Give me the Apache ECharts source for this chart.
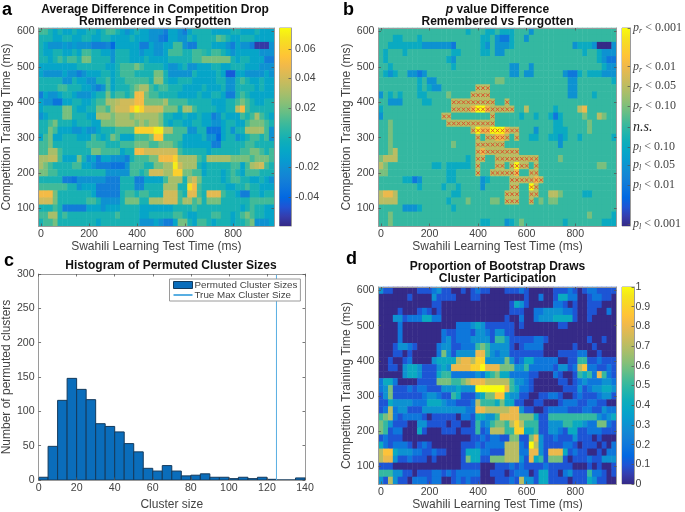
<!DOCTYPE html>
<html>
<head>
<meta charset="utf-8">
<style>html,body{margin:0;padding:0;background:#fff}#c{width:685px;height:512px;filter:blur(0.45px)}</style>
<script src="https://cdn.jsdelivr.net/npm/echarts@6/dist/echarts.min.js"></script>
</head>
<body>
<div id="c"></div>
<script>
const testTimes = [0,20,40,60,80,100,120,140,160,180,200,220,240,260,280,300,320,340,360,380,400,420,440,460,480,500,520,540,560,580,600,620,640,660,680,700,720,740,760,780,800,820,840,860,880,900,920,940,960];
const trainTimes = [60,80,100,120,140,160,180,200,220,240,260,280,300,320,340,360,380,400,420,440,460,480,500,520,540,560,580,600];

// Panel a: difference x 100, rows from 600 ms down to 60 ms
const diffRows = [
[1,1,0,-1,0,-1,-1,0,-1,-1, 0,0,-1,0,1,1,0,-1,-2,-1, 0,-1,-1,-2,-2,-2,-3,-1,-1,-2, -3,-1,0,0,0,0,-1,-1,-1,-1, 0,0,-1,-1,-1,0,-1,-1,-1],
[0,0,0,-1,-1,0,0,-1,-1,0, 0,-1,-1,0,0,-1,-1,-1,-1,0, -1,-1,-1,-2,-2,-3,-3.5,-1,-1,-2, -2,0,-1,0,0,0,0,1.5,1,0, -1,-1,0,0,0,-1,-1,-1,-1],
[0,-1,-2,-2,-2,-1.5,-2,-1.5,-2,-2, -2,-3,-3,-3,-2.5,-4,-1,-1,-1,-1, -1,-3,-3,-1,-2,-2,-1,-1,1,1, -2,-3,-3,0,0,0,-1,-1,-1,-2, -3,-1,-2,-2,-3,-5.5,-5.5,-5.5,-2],
[0,-1,-1,0,0,-1,-1,0,-1,1, 1,0,0,-1,-1,-2,0,0,0,-1, -1,-2,-1,-1,-2,-2,-1,1,1,1, 0,0,1,1,0.5,0,1,1,0,-1, -2,-1,-1,-1,-1,-1,-2,-2,-2],
[0,0,-1,0,1,0,1,1,0,2, 2,0,0,0,0,-2,0,0,0,-1, -1,-1,0,-1,-1,-1,-1,0,0,0, 0,0,1,1,2,2,2,2,2,2, 0,-1,0,0,-1,-1,-1,-3,-3],
[-1,-1,-1,-1,-1,-1,-1,-1,0,0, 0,0,0,0,-1,-1,0,1,1,1, 2,1,0,0,0,0,-1,-2,-2,-1, 0,-2,-2,-1,-1,-1,0,0,-1,-1, 0,0,0,-1,-1,-1,-2,-2,-2],
[-1,-2,-2,-2,-2,-1,-2,-2,-3,-2, -1,-1,-1,0,0,-1,0,1,1,1, 0,0,0,0,2,2,0,-2,-2,-2, -2,-2,0,-1,-1,-1,-1,0,-1,-4.5, -4.5,-1,-1,-2,-2,-2,-2,-1,-2],
[0,0,0,0,0,-2,-2,0,-1,-1, -2,-2,0,0,1,-1,0,0,1,1, 1,1,1,0,2.5,2.5,0,-1,-1,0, 0,0,-1,-1,-1,-1,-1,0,0,-2, -2,0,1,0,-1,-1,0,-1,-1],
[0,0,0,0,1,1,0,0,0,-1, -1,-2,-3,-2,1,-1,0,0,0,1, 2,3,3,1,0,1,1,0,0,0, -1,-1,-1,-1,0,-1,-1,-1,0,-2, -2,0,0,0,0,-1,0,-1,-1],
[-3,-1,-2,-2,-1,0,0,-1,-2,-2, -2,-1,0,0,2,0,1,1,0,1, 5,5,2,1,1,0,0,0,0,-1, -1,-1,-1,0,-1,-1,0,0,-1,-3, -3,0,1,0,-1,-1,-1,-1,-1],
[-1,-2,-2,-3.5,-3.5,-1,-1,0,0,-1, -1,0,1,1,3,3,3.5,4,4,4, 5,5,2,2,2,2,3,1,1,1, 1,0,0,0,0,0,-1,-1,-1,0, 0,1,2,1,0,-1,-1,0,0],
[-1,0,0,0,0,2,2,0,-1,-1, 0,0,2,2,1,3,4,4,4,5.5, 7,6,4,4,4,4,2,2,2,0, 3,3,1,0,0,0,0,-1,-1,0, 0,3.5,5,1,0,0,0,0,0],
[-2,-1,0,0,0,2,2,0,0,0, -1,-1,3,3,3,2,3,3,3,2, 3,3,3,3,3,2,0,0,-1,-1, 0,-1,-1,0,-1,-1,-3,-2,0,-1, -1,-1,1,0,1,3,1,0,-1],
[0,0,1,2,0,0,0,-1,0,0, 0,-1,-1,2,2,2,3,3,3,3, 2,3,2,3,3,2,0,-1,0,0, -1,-1,0,0,-1,-1,-2,-2,-1,0, 0,-1,-1,1,2,2,2,1,0],
[0,0,2,1,-1,-1,-1,-2,-2,-1, -2,-2,-1,0,0,0,1,1,1,1, 6,6,6,6,7,7,3,3,1,1, 1,-2,-2,0,0,-3.5,-3.5,-3.5,-1,0, -2,0,0,3,3,3,3,1,-2],
[-1,1,2,-1,-1,0,0,0,-1,-1, -1,1,0,-1,0,2,1,-1,-1,-1, 1,1,1,2,5.5,5.5,1,1,1,1, -1,-1,-1,-1,0,-2,-2,-4,-1,0, 0,-2,-1,0,1,1,0,1,-2],
[1,1,2,0,0,0,0,0,0,0, 1,1,1,1,0,0,0,1,1,1, 2,2,2,1,1,2,2,2,1,0, -1,-1,-1,-1,-1,-1,-3,-3,0,0, 0,0,0,1,1,0,0,0,0],
[1,1,3,3,1,0,0,0,0,0, 0,2,2,1,1,1,1,-1,0,0, 5,5,4,4,4,4,4,4,4,1, 0,0,0,0,0,-1,0,0,0,0, 0,0,1,1,2,2,1,0,1],
[3,3,3.5,3.5,1,-1,-1,-1,2,0, -2,-1,-3,-1,-1,-2,-2,-2,-3,0, 1,1,1,2,2,5,5,5,6,3, 3,3,3,1,0,3,3,3,3,3, 2,2,2,2,1,2,2,2,1],
[3,2,1,0,0,0,0,1,1,-1, -1,-2,-3,-3,-3,-3.5,-3.5,-3.5,-2,1, 1,1,0,0,2,2,3,3,7,4, 3,3,3,0,-1,0,0,0,0,0, 1,1,-1,1,3,3.5,4,1,0],
[2,2,1,1,0,0,0,0,0,0, 0,0,0,0,-2,-2,-2,-2,-2,1, 1,0,1,4,4,4,3,3,6,6, 2,2,1,1,-1,0,0,0,-1,0, 1,0,-1,1,1,1,0,0,0],
[0,0,0,0,0,-3,-3,-3.5,-2,-2, -2,-2,-2,-2,-3,-3,-3,0,0,0, -3,-3,-1,-1,-1,-1,1,3,3,3, 0,3,4,2,0,0,0,0,-1,0, 1,1,0,0,-1,-1,0,-1,-2],
[1,1,1,1,1,1,0,0,-2,-1, -1,-1,-3,-3,-3,-3,-3,0,0,0, -2.5,-2.5,0,0,0,0,3,3,3,0, 0,6.5,5,1,0,0,0,0,0,-1, -1,0,0,1,0,0,-1,-1,-1],
[5,5,5,2,0,0,0,0,0,0, 0,-1,-3,-3,-3,-3,-3,0,1,1, 0,1,1,0,0,0,4,4,4,1, 0,4.5,4.5,1,0,4.5,4.5,4.5,1,0, 0,-1,-3,-3,0,0,-1,0,0],
[4,4,4,2,0,0,0,0,0,0, 1,1,0,-2,-2,-2,-2,0,2,2, 2,0,0,3,3,3,4,4,4,1, 3,3,1,2,0,2,2,2,0,0, 0,0,0,0,1,1,1,1,1],
[0,0,0,1,0,-3,-3,-3,-3,-3, -1,-1,-1,-2,-1,-1,-1,0,0,0, 0,-1,-1,-1,-1,-1,-1,-1,0,0, 0,0,1,0,0,0,0,0,0,0, 0,0,-1,0,1,0,0,-1,-1],
[1,1,3,3,0,1,0,0,0,0, 0,0,0,0,0,0,1,0,0,0, 0,-1,-1,0,0,0,0,0,1,1, 0,-1,-1,0,0,0,1,1,0,0, -1,0,1,2,1,0,0,-1,-1],
[0,1,1,2,0,0,0,0,0,0, 0,0,-1,0,0,0,0,0,0,0, 0,-2,-2,-2,-1,-2,-3,-3,-1,2, 2,0,-1,1,1,0,-1,0,0,0, -1,0,0,1,2,-2,-2,-2,-1]
];

// Panel b: signed significance level x 5, rows from 600 ms down to 60 ms
const pRows = [
[0,0,0,0,0,0,0,0,0,0, 0,0,0,0,0,0,0,0,-1,0, 0,0,-1,-1,0,-1,-1,-1,0,0, 0,-2,0,0,0,0,0,0,0,0, 0,0,0,0,0,0,0,0,0],
[0,0,0,-1,-1,0,0,0,-1,0, 0,0,0,0,0,0,0,0,0,0, 0,-1,-1,0,-2,-3,-3,-1,0,0, -2,0,0,0,0,0,0,0,0,0, 0,0,0,0,0,0,0,0,0],
[0,0,-1,-1,-1,-1,-1,-1,-1,-2, -2,-2,-2,-2,-2,-3,0,0,0,0, 0,-1,-2,0,-2,-2,-2,-1,0,0, 0,0,0,0,0,0,0,0,0,0, -2,-1,-1,-1,-2,-5,-5,-5,-2],
[0,-1,0,0,0,-1,0,0,0,0, 0,0,0,0,0,-1,-1,0,0,0, 0,-1,-1,0,-2,-2,0,0,0,0, 0,0,0,0,0,0,0,0,0,0, 0,0,-1,0,0,-1,-2,-2,-2],
[0,-1,0,0,0,0,0,0,0,0, 0,0,0,0,-1,-2,0,0,0,0, 0,0,0,0,0,0,0,0,0,0, 0,0,0,0,0,0,0,0,0,0, 0,0,0,0,0,-1,-2,-3,-3],
[0,0,-1,0,0,0,0,0,0,0, 0,0,0,0,0,-1,0,0,0,0, 0,0,0,0,0,0,0,-2,-2,0, 0,-2,0,0,0,0,0,0,0,0, 0,0,0,0,0,0,-1,-2,-2],
[0,-1,-2,-1,0,0,-2,-2,-3,-2, 0,0,0,0,0,0,0,0,0,0, 0,0,0,0,0,0,0,-2,-2,0, -2,-2,0,0,0,0,0,0,-2,-3, -3,-1,0,-1,-1,-1,-2,-2,-2],
[0,0,0,0,0,0,0,0,-1,0, -2,-2,0,0,0,0,0,0,0,0, 0,0,0,0,1,1,0,0,0,0, 0,0,0,0,0,0,0,0,0,-2, -2,0,0,0,0,0,0,0,-1],
[0,0,0,0,0,0,0,0,-1,0, -1,-2,-2,0,0,0,0,0,0,0, 2,2,2,0,0,0,0,0,0,0, 0,0,0,0,0,0,0,0,0,-2, -2,0,0,0,0,0,0,0,0],
[-2,0,-1,0,-1,0,0,0,-1,-1, 0,0,0,0,1,0,0,0,0,2, 2,2,2,0,0,0,0,0,0,0, 0,0,0,0,0,0,0,0,0,-2, -2,0,0,0,-1,0,0,0,0],
[0,0,-2,-2,-2,0,0,0,0,-1, -1,0,0,0,0,2,2,2,2,2, 2,2,2,2,0,0,2,0,0,0, 0,0,0,0,0,0,0,0,0,0, 0,0,0,0,0,0,0,0,0],
[-1,0,0,0,0,0,0,0,0,0, 0,0,0,0,0,2,2,2,2,3, 5,5,3,2,2,2,2,2,0,0, 2,0,0,0,0,0,-1,0,0,0, 0,2,3,0,0,0,0,0,0],
[-2,0,0,0,0,0,0,0,0,0, 0,0,0,2,2,0,0,0,0,0, 0,0,0,2,0,0,0,0,0,-1, 0,0,-1,0,0,-1,-3,-1,0,0, 0,0,1,0,0,2,1,0,0],
[0,0,1,0,0,0,0,0,0,0, 0,0,0,0,2,2,2,2,2,2, 2,2,2,2,0,0,0,0,0,0, 0,0,0,0,0,0,-1,-1,0,0, 0,0,0,1,0,0,0,0,0],
[0,0,1,0,0,0,0,0,0,0, 0,0,0,0,0,0,0,0,0,2, 5,3,3,5,5,5,3,2,2,0, 0,0,-2,0,0,0,-1,-1,-1,0, 0,0,0,1,0,0,0,0,0],
[0,0,1,0,0,0,0,0,0,0, 0,0,0,0,0,0,0,0,0,0, 2,0,2,2,3,3,2,0,2,0, 0,-1,-1,0,0,-1,-1,-2,-1,0, 0,-1,0,0,0,0,0,0,-1],
[0,0,1,0,0,0,0,0,0,0, 0,0,0,0,0,1,0,0,0,0, 2,2,2,2,2,2,0,0,0,0, 0,0,0,0,0,0,0,-2,0,0, 0,0,0,0,0,0,0,0,0],
[0,0,1,2,0,0,0,0,0,0, 0,0,0,0,0,0,0,0,0,0, 2,3,2,2,2,2,2,2,2,0, 0,0,0,0,0,0,0,0,0,0, 0,0,0,0,0,0,0,0,0],
[1,2,2,2,0,0,0,0,0,0, 0,0,0,0,0,0,0,0,-1,0, 2,2,0,0,2,2,2,2,2,2, 2,2,2,0,0,0,0,1,0,0, 0,0,0,0,0,0,0,0,0],
[2,1,0,0,0,0,0,0,0,0, 0,-1,-1,0,-1,-1,-1,-1,-1,0, 2,0,0,0,2,2,0,2,5,2, 2,0,2,0,0,0,0,0,0,0, 0,0,0,0,0,1,1,0,0],
[1,1,0,0,0,0,0,0,0,0, 0,0,0,0,-1,-1,0,0,0,0, 2,0,0,2,2,2,2,2,3,0, 0,2,2,0,0,0,0,0,0,0, 0,0,0,0,0,0,0,0,0],
[0,0,0,0,0,-1,-1,-3,-2,0, 0,0,0,0,-1,-1,0,0,0,0, 0,-2,-1,0,0,0,0,2,2,2, 2,2,3,2,0,0,0,0,0,0, 0,0,0,0,0,0,0,0,0],
[0,0,0,0,0,0,0,0,-1,0, 0,0,0,-1,0,0,-1,0,0,0, 0,-2,0,0,0,0,0,2,2,0, 0,5,2,0,0,0,0,0,0,0, 0,0,0,0,0,0,0,0,0],
[2,3,3,2,0,0,0,0,0,0, 0,0,0,0,0,-1,-1,0,0,0, 0,0,0,0,0,0,2,2,2,0, 0,2,2,0,0,2,2,1,0,0, 0,0,-1,-1,0,0,0,0,0],
[2,2,2,2,0,0,0,0,0,0, 0,0,0,0,-1,0,0,0,1,0, 0,0,0,1,1,0,2,2,2,0, 0,2,0,1,0,1,1,0,0,0, 0,0,0,0,0,0,0,0,0],
[0,0,0,0,0,-2,-2,-2,-1,0, 0,0,0,0,0,-1,0,0,0,0, 0,0,0,0,0,0,0,0,0,0, 0,0,0,0,0,0,0,0,0,0, 0,0,0,0,0,0,0,0,0],
[0,0,1,0,0,0,0,0,0,0, 0,0,0,0,0,0,0,0,0,0, 0,0,0,0,0,0,0,0,0,0, 0,0,0,0,0,0,0,0,0,0, 0,0,0,1,0,0,0,0,-1],
[0,0,1,0,0,0,0,0,0,0, 0,0,0,0,0,0,0,0,0,0, 0,-1,-1,0,0,0,-2,-1,0,1, 0,0,0,0,0,0,0,0,-1,0, 0,0,0,0,0,0,-1,-1,-1]
];

// Panel b: cells inside the significant cluster [training ms, test ms...]
const clusterCells = [
[440,400,420,440],
[420,380,400,420,440],
[400,300,320,340,360,380,400,420,440,460,520],
[380,300,320,340,360,380,400,420,440,460,480,500,520,540],
[360,260,280,460],
[340,280,300,320,340,360,380,400,420,440,460],
[320,380,400,420,440,460,480,500,520,540,560],
[300,400,440,460,480,500,520,560],
[280,400,420,440,460,480,500],
[260,400,420,440,460,480,500,520,540,560],
[240,400,420,480,500,520,540,560,580,600,620,640],
[220,400,480,500,540,560,580,600,640],
[200,400,460,480,500,520,540,560,620,640],
[180,540,560,580,600,620,640,660],
[160,540,560,620,640],
[140,520,540,560,620,640],
[120,520,540,560,620]
];

// Panel d: proportion x 10, rows from 600 ms down to 60 ms
const bootRows = [
[3,1,1,0,0,0,0,0,1,1, 1,2,3,1,1,0,0,1,0,1, 2,1,1,0,0,0,1,1,1,2, 1,0,0,0,0,0,1,1,1,2, 1,0,1,2,2,1,1,1,1],
[0,0,0,0,0,0,1,0,0,0, 0,3,1,1,1,1,0,0,0,1, 1,0,0,0,0,0,0,0,0,0, 1,0,0,2,0,0,1,4,4,2, 2,0,0,1,2,2,1,1,0],
[0,0,0,0,0,0,0,0,0,0, 0,1,1,0,0,0,0,0,0,0, 0,0,0,0,0,0,0,1,4,3, 1,0,0,0,0,0,2,2,1,0, 1,0,0,1,1,1,0,0,0],
[0,0,0,0,1,0,0,0,1,2, 1,0,1,0,0,0,0,0,0,0, 0,0,0,0,0,0,0,1,1,1, 0,0,2,2,3,3,3,3,2,2, 1,0,0,1,1,0,0,2,0],
[0,0,0,3,3,1,2,2,2,4, 4,2,2,0,0,0,0,0,0,0, 0,0,0,0,0,0,1,0,0,2, 0,0,2,3,3,3,4,4,4,4, 1,0,0,1,0,0,0,0,0],
[0,0,0,0,2,0,0,0,0,0, 0,0,0,0,0,0,2,2,2,3, 4,3,1,1,1,1,1,1,0,1, 0,0,0,0,0,0,0,1,1,0, 0,0,0,0,0,0,0,0,0],
[0,0,0,0,2,0,0,0,0,0, 0,0,0,2,1,1,2,2,2,1, 3,3,2,1,3,3,1,1,0,0, 0,0,0,0,0,0,0,0,0,0, 0,0,0,0,0,0,0,0,0],
[0,0,0,0,2,0,0,0,0,0, 0,0,0,2,3,1,2,2,2,3, 3,3,3,1,5,5,3,1,1,1, 1,1,2,2,1,0,0,0,0,0, 0,0,0,1,0,0,1,0,0],
[0,0,0,1,3,3,2,1,0,0, 0,0,2,3,3,1,1,2,2,2, 5,6,5,3,3,3,3,1,0,1, 2,2,2,2,0,0,0,0,0,0, 1,0,0,0,1,0,0,0,0],
[0,0,0,1,1,0,1,0,0,0, 0,0,2,6,3,1,3,3,3,3, 8,8,5,3,2,3,3,1,1,1, 1,1,1,1,0,0,0,1,1,1, 1,2,2,0,0,1,0,0,0],
[0,0,1,0,0,1,2,0,0,0, 0,3,4,4,4,4,7,8,8,7, 9,9,3,3,3,3,6,3,1,2, 4,4,2,2,2,2,2,0,0,1, 1,5,5,1,1,2,1,1,1],
[0,0,1,1,0,3,4,4,3,1, 1,1,3,4,3,8,8,8,8,9, 9,10,8,8,8,6,6,6,3,3, 5,2,2,2,2,2,1,3,3,1, 2,7,8.5,2,2,1,1,2,1],
[0,0,0,0,0,3,4,4,3,1, 1,1,4,5,5,2,2,2,2,2, 3,2,4,5,6,4,4,2,2,2, 2,1,1,0,0,0,2,1,0,0, 1,5,4,5,2,8,5,2,1],
[2,4,4,2,0,0,0,0,1,1, 1,1,6,6,6,5,5,6,7,8, 8,8,7,7,7,7,7,5,3,3, 2,1,0,0,0,0,0,1,1,0, 1,2,3,2,2,2,3,3,2],
[2,3,6,1,1,1,2,1,2,2, 1,1,1,3,3,3,4,3,3,3, 10,10,10,10,10,10,8,5,4,2, 2,1,0,0,0,0,0,0,1,1, 1,3,1,2,3,3,4,4,3],
[1,3,6,1,1,1,1,1,1,2, 3,3,2,1,1,5,4,1,1,1, 3,4,6,6,8.5,8.5,4,3,3,1, 1,0,0,1,1,2,2,1,0,0, 1,2,1,1,1,2,3,3,1],
[1,1,4,3,3,3,3,2,2,2, 4,4,4,3,2,2,1,1,1,2, 7,5,5,5,4,6,4,4,1,1, 0,0,1,1,0,0,0,1,2,2, 2,1,1,2,2,1,1,0,0],
[1,2,7,2,3,3,1,1,1,3, 3,3,3,3,3,3,3,3,2,2, 8,8,7,7,7,7,7,8,8,3, 1,1,0,0,1,2,2,2,2,1, 1,1,2,2,1,1,3,2,2],
[5,6,7,2,1,2,2,2,2,1, 0,1,1,1,1,1,0,2,2,1, 4,4,3,3,5,8,8,8,8,6, 6,6,4,1,1,5,5,5,5,5, 5,5,5,5,5,3,2,3,4],
[6,5,3,1,1,1,0,0,3,3, 1,1,1,1,0,1,1,0,0,1, 5,2,3,5,6,6,5,7,9,7, 5,5,5,1,1,3,3,3,5,5, 4,4,3,2,2,6,6,2,1],
[6,5,1,2,2,0,0,0,4,1, 0,0,0,1,1,1,0,1,1,1, 5,1,2,7,7,7,5,5,9,9, 4,4,5,1,1,3,3,2,1,4, 4,1,1,2,2,2,1,1,1],
[1,2,1,1,1,0,0,0,0,0, 0,0,0,0,0,0,0,0,0,1, 1,2,1,2,2,1,1,6,6,1, 1,6,8,3,1,1,2,1,1,1, 3,1,1,1,0,1,0,0,0],
[4,2,1,2,2,2,1,0,1,2, 1,0,0,0,0,0,0,1,1,1, 2,1,2,2,2,2,7,7,7,2, 1,10,7,3,1,1,1,1,2,2, 1,0,1,1,1,0,1,0,2],
[7,8.5,8.5,4,3,3,3,2,2,1, 1,2,1,1,0,0,0,1,4,4, 4,2,2,1,1,1,7,7,7,2, 2,8,8,3,1,8,8,8,4,1, 2,1,1,0,0,1,0,2,2],
[7,8,8,3,1,1,2,1,1,1, 0,1,0,0,0,0,0,1,6,4, 4,1,1,6,6,6,7,7,7,3, 1,8,4,5,1,6,6,6,1,0, 1,1,1,2,1,1,3,3,3],
[1,1,1,0,0,0,0,0,0,0, 0,0,0,0,0,0,0,1,1,1, 1,0,0,0,1,1,1,2,1,2, 1,1,1,1,2,1,1,1,1,1, 0,0,0,1,0,1,0,0,1],
[5,5,5,3,3,1,1,0,1,1, 1,2,2,1,2,1,2,2,2,2, 2,0,0,1,1,1,0,1,2,2, 2,0,1,4,4,1,1,0,2,3, 1,1,1,5,2,2,1,0,1],
[3,1,7,3,1,1,0,2,2,2, 1,2,2,0,0,1,2,1,2,1, 1,0,0,0,1,1,1,2,1,7, 3,3,1,4,4,1,1,1,1,0, 1,1,1,4,3,1,1,0,0]
];

// Panel c
const binEdges = [0,5,10,15,20,25,30,35,40,45,50,55,60,65,70,75,80,85,90,95,100,105,110,115,120,125,130,135,140];
const binCounts = [4,49,116,148,132,117,82,78,70,53,41,17,13,21,13,6,7,9,4,4,2,4,2,4,1,0,0,3];
const trueMaxCluster = 125;

const aTicks = [-0.04,-0.02,0,0.02,0.04,0.06];
const bTicks = [1,0.61,0.415,0.21,0,-0.2,-0.385,-0.585,-0.98];
const bTickLabels = [['r','0.001'],['r','0.01'],['r','0.05'],['r','0.10'],null,['l','0.10'],['l','0.05'],['l','0.01'],['l','0.001']];
const dTicks = [0,0.1,0.2,0.3,0.4,0.5,0.6,0.7,0.8,0.9,1];

const parulaFull = ['#352a87','#353dad','#2053d4','#0268e1','#0d75dc','#1481d6','#108ed2','#079ccf','#06a7c6','#0faeb9','#25b5a9','#42ba98','#65be86','#87bf77','#a5be6b','#c0bc60','#d9ba56','#f1b94a','#ffc337','#fad32a','#f5e41d','#f9fb0e'];

const FONT = '"Liberation Sans", Arial, sans-serif';
const GRAY = '#434343', LINE = '#9a9a9a';
const TICK_FONT = 10.6, NAME_FONT = 12;

const grids=[], xAxes=[], yAxes=[], series=[], visualMaps=[];

function addFrame(rect, xBase, yBase){
  const g = grids.length;
  grids.push(Object.assign({show:false, containLabel:false}, rect));
  const tick = {show:true, inside:true, length:2.5, lineStyle:{color:'#555',width:0.8}};
  const xi = xAxes.length;
  xAxes.push(Object.assign({gridIndex:g, position:'bottom', z:6, axisLine:{show:true,onZero:false,lineStyle:{color:LINE,width:1}}, splitLine:{show:false},
    axisLabel:{color:GRAY,fontSize:TICK_FONT,fontFamily:FONT,margin:4}, axisTick:tick, nameTextStyle:{color:GRAY,fontSize:NAME_FONT,fontFamily:FONT}}, xBase));
  xAxes.push(Object.assign({}, xBase, {gridIndex:g, position:'top', z:6, name:'', axisLine:{show:true,onZero:false,lineStyle:{color:LINE,width:1}}, splitLine:{show:false},
    axisLabel:{show:false}, axisTick:Object.assign({},tick,xBase.axisTick||{})}));
  const yi = yAxes.length;
  yAxes.push(Object.assign({gridIndex:g, position:'left', z:6, axisLine:{show:true,onZero:false,lineStyle:{color:LINE,width:1}}, splitLine:{show:false},
    axisLabel:{color:GRAY,fontSize:TICK_FONT,fontFamily:FONT,margin:4}, axisTick:tick, nameTextStyle:{color:GRAY,fontSize:NAME_FONT,fontFamily:FONT}}, yBase));
  yAxes.push(Object.assign({}, yBase, {gridIndex:g, position:'right', z:6, name:'', axisLine:{show:true,onZero:false,lineStyle:{color:LINE,width:1}}, splitLine:{show:false},
    axisLabel:{show:false}, axisTick:Object.assign({},tick,yBase.axisTick||{})}));
  return {xi, yi};
}

function addHeat(rect, rows, scale, min, max, yName){
  const xf = (i,v)=> Number(v)%200===0;
  const yf = (i,v)=> Number(v)%100===0;
  const tk = {show:true, inside:true, length:2.5, alignWithLabel:true, lineStyle:{color:'#555',width:0.8}};
  const {xi, yi} = addFrame(rect,
    {type:'category', data:testTimes.map(String), boundaryGap:true, name:'Swahili Learning Test Time (ms)', nameLocation:'middle', nameGap:14,
     axisLabel:{color:GRAY,fontSize:TICK_FONT,fontFamily:FONT,margin:3,interval:xf}, axisTick:Object.assign({},tk,{interval:xf})},
    {type:'category', data:trainTimes.map(String), boundaryGap:true, name:yName, nameLocation:'middle', nameGap:23,
     axisLabel:{color:GRAY,fontSize:TICK_FONT,fontFamily:FONT,margin:4,interval:yf}, axisTick:Object.assign({},tk,{interval:yf})});
  const data=[];
  rows.forEach((row,r)=>row.forEach((v,c)=>data.push([c, rows.length-1-r, v*scale])));
  const si = series.length;
  series.push({type:'heatmap', xAxisIndex:xi, yAxisIndex:yi, data, progressive:0, animation:false, itemStyle:{borderWidth:0}, emphasis:{disabled:true}, z:2});
  visualMaps.push({show:false, type:'continuous', seriesIndex:si, dimension:2, min, max, inRange:{color:parulaFull}, calculable:false});
  return {xi, yi};
}

function addBar(rect, min, max, ticks, formatter, rich, margin){
  const {xi, yi} = addFrame(rect,
    {type:'value', min:0, max:1, show:false},
    {type:'value', min, max, show:false});
  const g = grids.length-1;
  yAxes.push({gridIndex:g, type:'value', min, max, position:'right', z:6, splitLine:{show:false},
    axisLine:{show:true,onZero:false,lineStyle:{color:LINE,width:1}},
    axisTick:{show:true, inside:true, length:2.5, customValues:ticks, lineStyle:{color:'#555',width:0.8}},
    axisLabel:{show:true, customValues:ticks, color:GRAY, fontSize:TICK_FONT, fontFamily:FONT, margin:margin, formatter, rich, showMinLabel:true, showMaxLabel:true}});
  const bi = yAxes.length-1;
  series.push({type:'custom', xAxisIndex:xi, yAxisIndex:bi, silent:true, animation:false, z:2,
    data:[[0,min,1,max]],
    encode:{x:[0,2], y:[1,3]},
    renderItem:(p,api)=>{
      const a=api.coord([api.value(0),api.value(3)]), b=api.coord([api.value(2),api.value(1)]);
      return {type:'rect', shape:{x:a[0],y:a[1],width:b[0]-a[0],height:b[1]-a[1]},
        style:{fill:new echarts.graphic.LinearGradient(0,1,0,0,parulaFull.map((c,i)=>({offset:i/(parulaFull.length-1),color:c})))}};
    }});
  grids[g].show=true; grids[g].borderColor=LINE; grids[g].borderWidth=1; grids[g].backgroundColor='transparent';
}

/* Panel a */
const yLabel='Competition Training Time (ms)';
addHeat({left:36,top:28,width:238,height:198}, diffRows, 0.01, -0.06, 0.0742, yLabel);
addBar({left:279.5,top:28,width:11.5,height:198}, -0.0597, 0.0742, aTicks, v=>v===0?'0':String(+v.toFixed(2)), undefined, 4);

/* Panel b */
const bAx = addHeat({left:378.5,top:28,width:238,height:198}, pRows, 0.2, -1, 1, yLabel);
const markers=[];
clusterCells.forEach(e=>e.slice(1).forEach(t=>markers.push([String(t),String(e[0])])));
series.push({type:'scatter', xAxisIndex:bAx.xi, yAxisIndex:bAx.yi, data:markers, animation:false, z:4, silent:true,
  symbol:'path://M0 0L10 10M10 0L0 10', symbolSize:3.6, itemStyle:{color:'transparent',borderColor:'#dc4a2a',borderWidth:0.9,opacity:1}});
const texRich={p:{fontFamily:'"Liberation Serif",serif',fontStyle:'italic',fontSize:12,color:GRAY,lineHeight:14},
  s:{fontFamily:'"Liberation Serif",serif',fontStyle:'italic',fontSize:8,color:GRAY,verticalAlign:'bottom',lineHeight:14},
  t:{fontFamily:'"Liberation Serif",serif',fontSize:12,color:GRAY,lineHeight:14},
  n:{fontFamily:'"Liberation Serif",serif',fontStyle:'italic',fontSize:14,color:'#222',lineHeight:14}};
addBar({left:622,top:28,width:12,height:198}, -1, 1, bTicks, v=>{
  const i=bTicks.findIndex(t=>Math.abs(t-v)<1e-6);
  const l=bTickLabels[i];
  if(i<0) return '';
  if(!l) return '{n|n.s.}';
  return '{p|p}{s|'+l[0]+'}{t| < '+l[1]+'}';
}, texRich, 3);

/* Panel c */
const cAx = addFrame({left:38,top:274,width:267,height:210},
  {type:'value', min:0, max:140, interval:20, name:'Cluster size', nameLocation:'middle', nameGap:19, axisLabel:{color:GRAY,fontSize:TICK_FONT,fontFamily:FONT,margin:3,showMaxLabel:true,showMinLabel:true}},
  {type:'value', min:0, max:300, interval:50, name:'Number of permuted clusters', nameLocation:'middle', nameGap:23});
const histData=binCounts.map((n,i)=>[binEdges[i],binEdges[i+1],n]);
series.push({type:'custom', name:'Permuted Cluster Sizes', xAxisIndex:cAx.xi, yAxisIndex:cAx.yi, data:histData, animation:false, z:2,
  encode:{x:[0,1],y:2}, itemStyle:{color:'#0a6dbb',borderColor:'#143a5c',borderWidth:1},
  renderItem:(p,api)=>{
    const a=api.coord([api.value(0),api.value(2)]), b=api.coord([api.value(1),0]);
    return {type:'rect', shape:{x:a[0],y:a[1],width:b[0]-a[0],height:b[1]-a[1]}, style:{fill:'#0a6dbb',stroke:'#143a5c',lineWidth:1}};
  }});
series.push({type:'line', name:'True Max Cluster Size', xAxisIndex:cAx.xi, yAxisIndex:cAx.yi, data:[[trueMaxCluster,0],[trueMaxCluster,300]],
  showSymbol:false, symbol:'none', animation:false, z:3, lineStyle:{color:'#58aee2',width:1}, itemStyle:{color:'#58aee2'}});

/* Panel d */
addHeat({left:378.5,top:287,width:238,height:197}, bootRows, 0.1, 0, 1, yLabel);
addBar({left:622,top:287,width:12,height:197}, 0, 1, dTicks, v=>String(+v.toFixed(1)), undefined, 1.5);

const titleStyle={color:'#111',fontSize:12,fontWeight:'bold',fontFamily:FONT,lineHeight:12.5,align:'center'};
const letter=(t,l,tp)=>({text:t,left:l,top:tp,padding:0,textStyle:{color:'#000',fontSize:18,fontWeight:'bold',fontFamily:FONT}});
const heading=(t,cx,tp,rich)=>({text:t,left:cx,top:tp,padding:0,textAlign:'center',textStyle:Object.assign({},titleStyle,{rich})});

const titles=[
  letter('a',2,1), letter('b',343,1), letter('c',4,252), letter('d',346,250),
  heading('Average Difference in Competition Drop\nRemembered vs Forgotten',155,3),
  heading('{i|p} value Difference\nRemembered vs Forgotten',497.5,3,{i:{fontStyle:'italic',fontWeight:'bold',fontSize:12,fontFamily:FONT,color:'#111',lineHeight:12.5}}),
  heading('Histogram of Permuted Cluster Sizes',171,259.5),
  heading('Proportion of Bootstrap Draws\nCluster Participation',497.5,260)
];

const chart=echarts.init(document.getElementById('c'),null,{renderer:'canvas'});
chart.setOption({
  animation:false,
  backgroundColor:'#fff',
  textStyle:{fontFamily:FONT},
  title:titles,
  grid:grids, xAxis:xAxes, yAxis:yAxes, visualMap:visualMaps, series,
  legend:{show:true, left:169.5, top:279, orient:'vertical', padding:[1,3,1,3], itemGap:0, itemWidth:19, itemHeight:7,
    backgroundColor:'#fff', borderColor:'#9a9a9a', borderWidth:1, selectedMode:false, z:20,
    textStyle:{color:GRAY,fontSize:9.8,fontFamily:FONT,lineHeight:10,padding:[0,0,0,-3]},
    data:[{name:'Permuted Cluster Sizes',icon:'rect',itemStyle:{color:'#0a6dbb',borderColor:'#143a5c',borderWidth:1}},
          {name:'True Max Cluster Size',itemStyle:{color:'transparent',borderWidth:0,opacity:0}}]}
});
</script>
</body>
</html>
